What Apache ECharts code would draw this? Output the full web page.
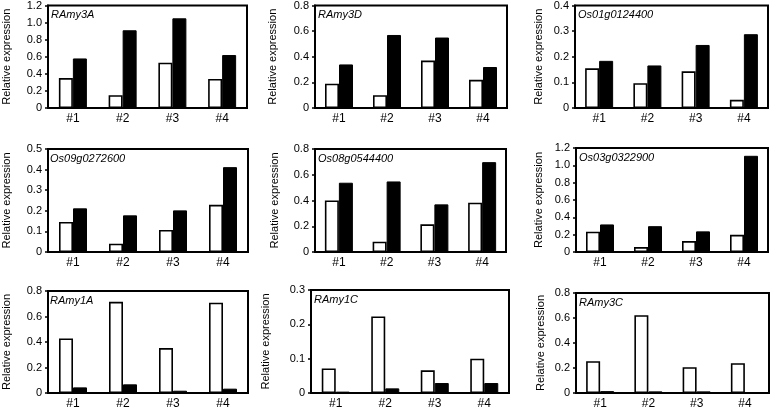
<!DOCTYPE html>
<html><head><meta charset="utf-8">
<script src="https://cdn.jsdelivr.net/npm/echarts@6/dist/echarts.min.js"></script>
<style>html,body{margin:0;padding:0;background:#fff}#c{width:774px;height:410px}</style>
</head><body><div id="c"></div>
<script>
const categories = ['#1', '#2', '#3', '#4'];
const genes = ['RAmy3A', 'RAmy3D', 'Os01g0124400', 'Os09g0272600', 'Os08g0544400', 'Os03g0322900', 'RAmy1A', 'RAmy1C', 'RAmy3C'];
// open bars (white) and filled bars (black) per gene
const ramy3A_white = [0.35, 0.15, 0.53, 0.34];
const ramy3A_black = [0.58, 0.91, 1.05, 0.62];
const ramy3D_white = [0.19, 0.10, 0.37, 0.22];
const ramy3D_black = [0.34, 0.57, 0.55, 0.32];
const os01_white = [0.155, 0.097, 0.143, 0.032];
const os01_black = [0.184, 0.166, 0.246, 0.288];
const os09_white = [0.146, 0.040, 0.107, 0.229];
const os09_black = [0.212, 0.178, 0.202, 0.412];
const os08_white = [0.40, 0.08, 0.215, 0.383];
const os08_black = [0.538, 0.548, 0.37, 0.698];
const os03_white = [0.234, 0.057, 0.126, 0.198];
const os03_black = [0.318, 0.298, 0.238, 1.11];
const ramy1A_white = [0.428, 0.715, 0.352, 0.708];
const ramy1A_black = [0.044, 0.068, 0.018, 0.034];
const ramy1C_white = [0.0715, 0.223, 0.066, 0.100];
const ramy1C_black = [0.004, 0.0135, 0.029, 0.029];
const ramy3C_white = [0.254, 0.622, 0.207, 0.238];
const ramy3C_black = [0.015, 0.013, 0.013, 0.008];
const yMax = [1.2, 0.8, 0.4, 0.5, 0.8, 1.2, 0.8, 0.3, 0.8];
const yStep = [0.2, 0.2, 0.1, 0.1, 0.2, 0.2, 0.2, 0.1, 0.2];

const whiteData = [ramy3A_white, ramy3D_white, os01_white, os09_white, os08_white, os03_white, ramy1A_white, ramy1C_white, ramy3C_white];
const blackData = [ramy3A_black, ramy3D_black, os01_black, os09_black, os08_black, os03_black, ramy1A_black, ramy1C_black, ramy3C_black];

// layout: [left, top, width, height, nameGap]
const boxes = [
  [48, 5, 199, 103, 36], [315, 5, 192, 103, 37], [575, 5, 193, 103, 31],
  [47, 149, 201, 103, 36], [315, 149, 191, 103, 35], [576, 148, 192, 104, 32],
  [47, 291, 201, 104, 36], [311, 290, 198, 104, 40], [576, 293, 193, 103, 30]
];
const FONT = 'Liberation Sans, Arial, sans-serif';
const grid = [], xAxis = [], yAxis = [], series = [], title = [];
boxes.forEach((b, i) => {
  grid.push({left: b[0], top: b[1], width: b[2], height: b[3], show: true, borderColor: '#000', borderWidth: 2, backgroundColor: 'transparent'});
  xAxis.push({type: 'category', gridIndex: i, data: categories,
    axisLine: {show: true, lineStyle: {color: '#000', width: 2}}, axisTick: {show: false},
    axisLabel: {color: '#000', fontSize: 12, fontFamily: FONT, margin: 5}});
  yAxis.push({type: 'value', gridIndex: i, min: 0, max: yMax[i], interval: yStep[i],
    name: 'Relative expression', nameLocation: 'middle', nameGap: b[4],
    nameTextStyle: {color: '#000', fontSize: 11, fontFamily: FONT},
    axisLine: {show: true, lineStyle: {color: '#000', width: 2}},
    axisTick: {show: true, length: 3, lineStyle: {color: '#000', width: 1.5}},
    splitLine: {show: false},
    axisLabel: {color: '#000', fontSize: 11, fontFamily: FONT, margin: 6,
      formatter: v => v === 0 ? '0' : v.toFixed(1)}});
  series.push({type: 'bar', xAxisIndex: i, yAxisIndex: i, data: whiteData[i], barWidth: 14, barGap: '0%',
    itemStyle: {color: '#fff', borderColor: '#000', borderWidth: 1.6}, animation: false});
  series.push({type: 'bar', xAxisIndex: i, yAxisIndex: i, data: blackData[i], barWidth: 14, barGap: '0%',
    itemStyle: {color: '#000', borderColor: '#000', borderWidth: 1}, animation: false});
  title.push({text: genes[i], left: b[0] + 3, top: b[1] + 4, padding: 0,
    textStyle: {fontSize: 11, fontStyle: 'italic', fontWeight: 'normal', color: '#000', fontFamily: FONT}});
});
const chart = echarts.init(document.getElementById('c'), null, {renderer: 'canvas'});
chart.setOption({animation: false, title, grid, xAxis, yAxis, series});
</script></body></html>
